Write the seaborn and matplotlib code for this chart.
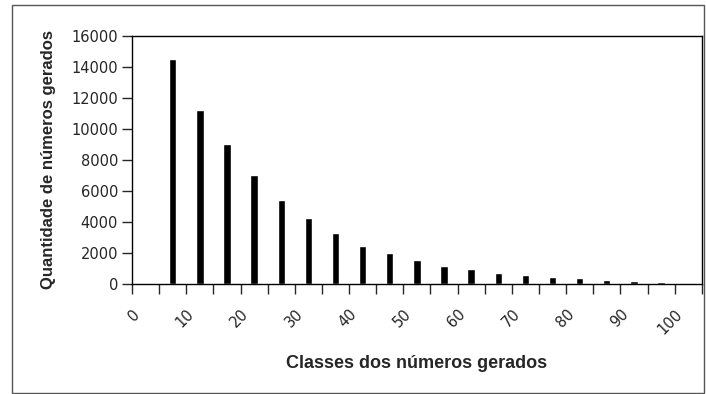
import numpy as np
import pandas as pd
import seaborn as sns
import matplotlib.pyplot as plt
import matplotlib.transforms as mtransforms
from matplotlib.patches import Rectangle

# class labels (0, 5, ..., 100) and counts
classes = [str(c) for c in range(0, 105, 5)]
counts = [np.nan, 14500, 11200, 9000, 7000, 5450, 4250, 3300, 2450, 2000,
          1550, 1150, 950, 720, 600, 480, 360, 260, 170, 140, np.nan]
shown_labels = ['0', '10', '20', '30', '40', '50', '60', '70', '80', '90', '100']

df = pd.DataFrame({'classe': classes, 'quantidade': counts})

sns.set_style('white')
plt.rcParams['font.family'] = ['Liberation Sans', 'DejaVu Sans']

fig = plt.figure(figsize=(7.06, 3.94), dpi=100)
ax = fig.add_axes([0.187, 0.279, 0.807, 0.630])

sns.barplot(data=df, x='classe', y='quantidade', color='black',
            width=0.27, ax=ax, order=classes)

ax.set_xlim(-0.5, len(classes) - 0.5)
ax.set_ylim(0, 16000)
ax.set_yticks(range(0, 16001, 2000))
ax.tick_params(axis='y', labelsize=10.5, length=7, width=1, direction='out',
               left=True, pad=3)
for t in ax.get_yticklabels():
    t.set_family('DejaVu Sans')

# tick marks at category boundaries, labels at every other category
ax.set_xticks(np.arange(-0.5, len(classes), 1.0))
ax.set_xticklabels([])
ax.tick_params(axis='x', which='major', length=7, width=1, direction='out',
               bottom=True)
label_pos = [classes.index(l) for l in shown_labels]
ax.set_xticks(label_pos, minor=True)
ax.set_xticklabels(shown_labels, minor=True, rotation=45, ha='right',
                   va='center', rotation_mode='anchor', fontsize=10.5,
                   family='DejaVu Sans')
ax.tick_params(axis='x', which='minor', length=0, pad=20)
shift = mtransforms.ScaledTranslation(-8 / 100, 0, fig.dpi_scale_trans)
for t in ax.get_xticklabels(minor=True):
    t.set_transform(t.get_transform() + shift)

for s in ax.spines.values():
    s.set_color('black')
    s.set_linewidth(1)

ax.set_xlabel('Classes dos números gerados', fontsize=13, fontweight='bold')
ax.set_ylabel('Quantidade de números gerados', fontsize=12, fontweight='bold')
ax.xaxis.set_label_coords(0.5, -0.285)
ax.yaxis.set_label_coords(-0.133, 0.5)

# chart area border
fig.patches.append(Rectangle((12 / 706, 1 / 394), 692 / 706, 388 / 394,
                             transform=fig.transFigure, fill=False,
                             edgecolor='#555555', linewidth=1))

fig.savefig('out.png', dpi=100)
